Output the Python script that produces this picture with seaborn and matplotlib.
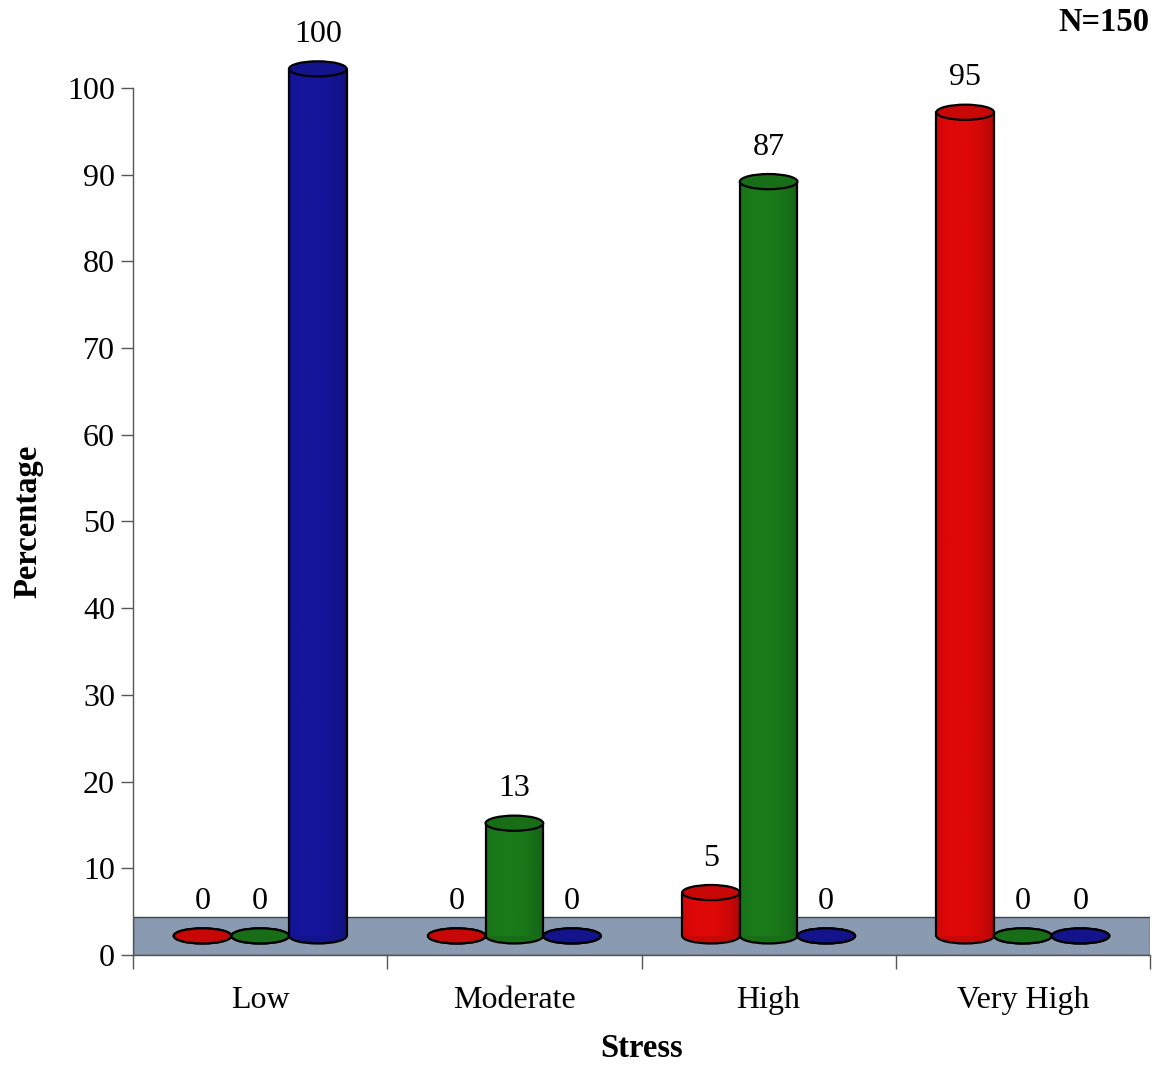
import numpy as np
import pandas as pd
import matplotlib
matplotlib.use("Agg")
import matplotlib.pyplot as plt
import seaborn as sns
from matplotlib.patches import Ellipse, Rectangle
from matplotlib.colors import to_rgb

# ---- data -------------------------------------------------------------
categories = ["Low", "Moderate", "High", "Very High"]
groups = ["A", "B", "C"]
values_a = [0, 0, 5, 95]      # red series
values_b = [0, 13, 87, 0]     # green series
values_c = [100, 0, 0, 0]     # blue series
palette = ["#de0808", "#1a7a1a", "#15159c"]
y_ticks = [0, 10, 20, 30, 40, 50, 60, 70, 80, 90, 100]
sample_note = "N=150"

df = pd.DataFrame({
    "Stress": categories * 3,
    "Group": [g for g in groups for _ in categories],
    "Percentage": values_a + values_b + values_c,
})

# ---- style ------------------------------------------------------------
sns.set_style("ticks", {"text.color": "black", "axes.labelcolor": "black",
                        "xtick.color": "black", "ytick.color": "black"})
plt.rcParams["font.family"] = ["Liberation Serif", "DejaVu Serif"]

fig = plt.figure(figsize=(11.59, 10.65), dpi=100)
ax = fig.add_axes([0.1148, 0.1033, 0.8774, 0.8141])

sns.barplot(data=df, x="Stress", y="Percentage", hue="Group",
            palette=palette, width=0.68, saturation=1, errorbar=None,
            legend=False, ax=ax)

ax.set_xlim(-0.5, 3.5)
ax.set_ylim(0, 100)

# 3-D look: floor slab and cylinders resting on it
BASE = 2.2        # height of the cylinder bases above the axis
EH = 1.75         # vertical size of the cylinder caps (data units)
FLOOR_TOP = 4.4

floor = Rectangle((-0.5, 0), 4.0, FLOOR_TOP, facecolor="#8a9ab0",
                  edgecolor="#3c4450", lw=1.0, zorder=1)
ax.add_patch(floor)

t = np.linspace(0, 1, 64)
shade = np.clip(0.80 + 0.22 * (1 - ((t - 0.38) / 0.62) ** 2), 0, 1.0)

bars = [b for b in ax.patches if b is not floor]
for i, bar in enumerate(bars):
    hue_idx = i // len(categories)
    x0 = bar.get_x()
    w = bar.get_width()
    h = bar.get_height()
    xc = x0 + w / 2
    rgb = np.array(to_rgb(bar.get_facecolor()))
    z = 3 + hue_idx * 0.1

    bar.set_y(BASE)
    bar.set_edgecolor("none")
    bar.set_zorder(z + 0.01)
    bar.set_clip_on(False)

    # bottom cap
    ax.add_patch(Ellipse((xc, BASE), w, EH, facecolor=rgb * 0.9,
                         edgecolor="black", lw=1.6, zorder=z, clip_on=False))
    if h > 0:
        body = np.clip(rgb[None, :] * shade[:, None], 0, 1)[None, :, :]
        im = ax.imshow(body, extent=[x0, x0 + w, BASE, BASE + h],
                       aspect="auto", interpolation="bilinear",
                       zorder=z + 0.02)
        im.set_clip_on(False)
        for xs in (x0, x0 + w):
            ax.plot([xs, xs], [BASE, BASE + h], color="black", lw=1.6,
                    zorder=z + 0.03, clip_on=False)
    # top cap
    ax.add_patch(Ellipse((xc, BASE + h), w, EH, facecolor=rgb * 0.9,
                         edgecolor="black", lw=1.6, zorder=z + 0.04,
                         clip_on=False))
    ax.annotate(f"{h:g}", (xc, BASE + h + EH / 2), xytext=(0, 14),
                textcoords="offset points", ha="center", va="baseline",
                fontsize=23, color="black", annotation_clip=False, zorder=6)

ax.set_xlim(-0.5, 3.5)
ax.set_ylim(0, 100)

# ---- axes decoration -------------------------------------------------
sns.despine(ax=ax)
for side in ("left", "bottom"):
    ax.spines[side].set_color("#555555")
    ax.spines[side].set_linewidth(1.0)

ax.set_yticks(y_ticks)
ax.tick_params(axis="y", direction="out", length=9, width=1,
               color="#555555", labelcolor="black", labelsize=23, pad=4)
ax.set_xticks(range(len(categories)))
ax.set_xticklabels(categories)
ax.set_xticks([-0.5, 0.5, 1.5, 2.5, 3.5], minor=True)
ax.tick_params(axis="x", which="major", length=0, labelsize=23,
               labelcolor="black", pad=22)
ax.tick_params(axis="x", which="minor", direction="out", length=10,
               width=1, color="#555555")

ax.set_xlabel("Stress", fontsize=23.5, fontweight="bold", labelpad=13,
              color="black")
ax.set_ylabel("Percentage", fontsize=23.5, fontweight="bold", labelpad=17,
              color="black")

fig.text(0.992, 0.979, sample_note, ha="right", va="center",
         fontsize=23.5, fontweight="bold", color="black")

fig.savefig("out.png", dpi=100)
